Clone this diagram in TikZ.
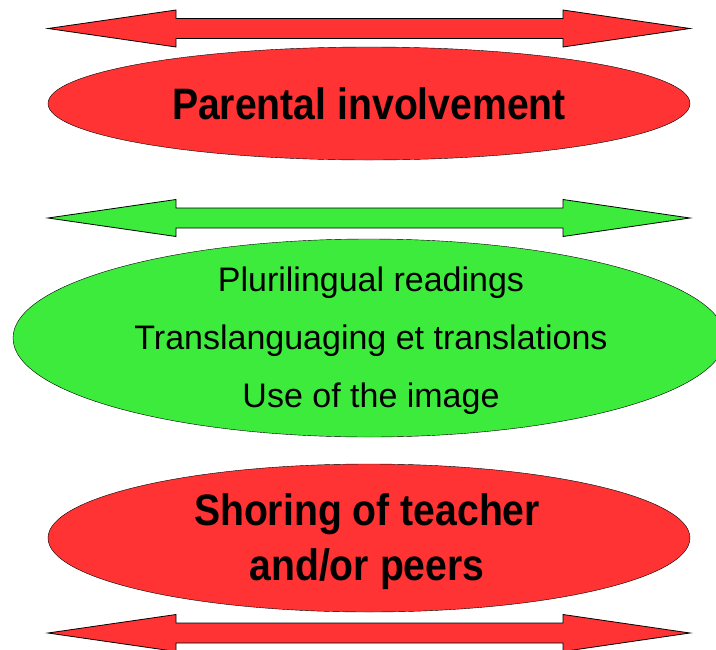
\documentclass[tikz,border=0pt]{standalone}
\usepackage{fontspec}
\setmainfont{Liberation Sans}
\newfontfamily\narrowfont[FakeStretch=0.89]{Liberation Sans}
\usepackage{xcolor}
\usetikzlibrary{shapes.geometric}
\definecolor{ovalred}{RGB}{255,51,51}
\definecolor{ovalgreen}{RGB}{61,235,61}
\tikzstyle{red oval}=[
        draw = black,
        fill = ovalred,
        ellipse,
        inner sep = 0pt
    ]
\tikzstyle{green oval}=[
    draw = black,
    fill = ovalgreen,
    ellipse,
    inner sep = 0pt
]
\tikzstyle{bold text}=[
    align = center,
    font = \narrowfont\bfseries\fontsize{44}{55}\selectfont
]
\tikzstyle{plain text}=[
    align = center,
    font = \fontsize{34}{58}\selectfont
]
\tikzstyle{wide arrow}=[
    draw = black,
    line width = 0.8pt,
    line join = miter
]

\begin{document}
\begin{tikzpicture}[x=1pt, y=-1pt]
        \useasboundingbox (0,0) rectangle (716,649);

        % two-headed arrows
        \foreach \c/\col in {28.5/ovalred, 218/ovalgreen, 633/ovalred}
            \draw[wide arrow, fill=\col] (48,\c) -- (176,\c-18.5) -- (176,\c-10) -- (563,\c-10)
                -- (563,\c-18.5) -- (690,\c) -- (563,\c+18.5) -- (563,\c+10)
                -- (176,\c+10) -- (176,\c+18.5) -- cycle;

        \node[red oval, minimum width=642pt, minimum height=113pt] (parents) at (369,103.5) {};
        \node[green oval, minimum width=712pt, minimum height=198pt] (tools) at (369,338) {};
        \node[red oval, minimum width=642pt, minimum height=148pt] (shoring) at (369,538) {};

        \node[bold text] (parentsText) at (369,103.5) {Parental involvement};
        \node[plain text] (toolsText) at (371,341) {Plurilingual readings\\Translanguaging et translations\\Use of the image};
        \node[bold text] (shoringText) at (367,542) {Shoring of teacher\\and/or peers};

    \end{tikzpicture}
\end{document}
